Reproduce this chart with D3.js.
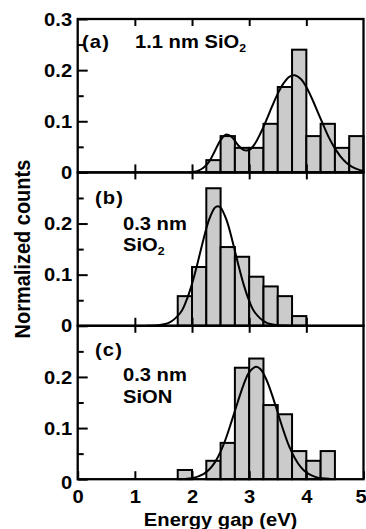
<!DOCTYPE html>
<html>
<head>
  <meta charset="utf-8">
  <script src="https://cdn.jsdelivr.net/npm/d3@7"></script>
  <style>
    body { margin: 0; background: #fff; }
    svg text { font-family: "Liberation Sans", Arial, sans-serif; font-weight: bold; fill: #000; }
  </style>
</head>
<body>
<svg id="chart" width="366" height="529"></svg>
<script>
// histogram bins are 0.25 eV wide, value = normalized count
const binWidth = 0.25;
const energyTicks = [0, 1, 2, 3, 4, 5];
const innerEnergyTicks = [1, 2, 3, 4];
const countTicksA = [0, 0.1, 0.2, 0.3];
const countTicksBC = [0, 0.1, 0.2];
const minorCountTicks = [0.05, 0.15, 0.25];

// (a) 1.1 nm SiO2
const binsA = [2.25, 2.5, 2.75, 3.0, 3.25, 3.5, 3.75, 4.0, 4.25, 4.5, 4.75];
const countsA = [0.024, 0.071, 0.048, 0.048, 0.095, 0.167, 0.240, 0.071, 0.095, 0.048, 0.071];
const fitAx = [1.95, 2.0, 2.1, 2.2, 2.3, 2.4, 2.5, 2.6, 2.7, 2.8, 2.9, 3.0, 3.1, 3.2, 3.3, 3.4, 3.5, 3.6, 3.7, 3.8, 3.9, 4.0, 4.1, 4.2, 4.3, 4.4, 4.5, 4.6, 4.7, 4.8, 4.9, 5.0];
const fitAy = [0, 0.001, 0.003, 0.009, 0.021, 0.042, 0.063, 0.074, 0.069, 0.054, 0.044, 0.044, 0.056, 0.077, 0.102, 0.129, 0.154, 0.174, 0.187, 0.190, 0.183, 0.167, 0.144, 0.118, 0.092, 0.067, 0.047, 0.031, 0.019, 0.011, 0.006, 0.003];

// (b) 0.3 nm SiO2
const binsB = [1.75, 2.0, 2.25, 2.5, 2.75, 3.0, 3.25, 3.5, 3.75];
const countsB = [0.058, 0.115, 0.269, 0.154, 0.135, 0.096, 0.077, 0.058, 0.019];
const fitBx = [1.2, 1.4, 1.6, 1.8, 1.9, 2.0, 2.1, 2.2, 2.3, 2.4, 2.45, 2.5, 2.6, 2.7, 2.8, 2.9, 3.0, 3.1, 3.3, 3.5, 3.7];
const fitBy = [0, 0.001, 0.006, 0.026, 0.049, 0.082, 0.124, 0.169, 0.208, 0.231, 0.234, 0.231, 0.208, 0.169, 0.124, 0.082, 0.049, 0.026, 0.006, 0.001, 0];

// (c) 0.3 nm SiON
const binsC = [1.75, 2.0, 2.25, 2.5, 2.75, 3.0, 3.25, 3.5, 3.75, 4.0, 4.25];
const countsC = [0.018, 0, 0.036, 0.071, 0.218, 0.236, 0.145, 0.127, 0.055, 0.036, 0.055];
const fitCx = [1.9, 2.0, 2.2, 2.3, 2.4, 2.5, 2.6, 2.7, 2.8, 2.9, 3.0, 3.12, 3.2, 3.3, 3.4, 3.5, 3.6, 3.7, 3.8, 3.9, 4.0, 4.1, 4.2, 4.4];
const fitCy = [0.001, 0.002, 0.010, 0.019, 0.033, 0.054, 0.082, 0.116, 0.151, 0.184, 0.209, 0.220, 0.215, 0.195, 0.165, 0.130, 0.095, 0.064, 0.041, 0.024, 0.013, 0.007, 0.003, 0.001];

const yTitle = "Normalized counts";
const xTitle = "Energy gap (eV)";

const svg = d3.select("#chart");
const plotLeft = 77.7, plotRight = 363.5, plotTop = 19, panelH = 153.4;
const stretch = "scale(1.12,1)"; // the original lettering is a bit wide

const x = d3.scaleLinear().domain([0, 5]).range([plotLeft, plotRight]);

const panels = [
  { bins: binsA, counts: countsA, fx: fitAx, fy: fitAy, ticks: countTicksA,
    label: [{ t: "(a)", x: 82, y: 48 }, { t: "1.1 nm SiO", sub: "2", x: 135, y: 48 }] },
  { bins: binsB, counts: countsB, fx: fitBx, fy: fitBy, ticks: countTicksBC,
    label: [{ t: "(b)", x: 95, y: 204 }, { t: "0.3 nm", x: 123, y: 230 }, { t: "SiO", sub: "2", x: 123, y: 251 }] },
  { bins: binsC, counts: countsC, fx: fitCx, fy: fitCy, ticks: countTicksBC,
    label: [{ t: "(c)", x: 95, y: 356 }, { t: "0.3 nm", x: 123, y: 381 }, { t: "SiON", x: 123, y: 403 }] }
];

const fmt = d => d === 0 ? "0" : d3.format(".1f")(d);

panels.forEach((p, i) => {
  const y0 = plotTop + panelH * (i + 1);
  const y = d3.scaleLinear().domain([0, 0.3]).range([y0, y0 - panelH]);
  const g = svg.append("g");

  // bars
  g.selectAll("rect.bar")
    .data(p.bins.map((b, j) => ({ b, v: p.counts[j] })))
    .join("rect")
    .attr("class", "bar")
    .attr("x", d => x(d.b))
    .attr("width", d => x(d.b + binWidth) - x(d.b))
    .attr("y", d => y(d.v))
    .attr("height", d => y(0) - y(d.v))
    .attr("fill", "#cbcbcb")
    .attr("stroke", "#000")
    .attr("stroke-width", 2);

  // gaussian fit
  const line = d3.line()
    .x((d, j) => x(p.fx[j]))
    .y(d => y(d))
    .curve(d3.curveCatmullRom);
  g.append("path")
    .attr("d", line(p.fy))
    .attr("fill", "none")
    .attr("stroke", "#000")
    .attr("stroke-width", 2);

  // frame
  g.append("rect")
    .attr("x", plotLeft).attr("y", y0 - panelH)
    .attr("width", plotRight - plotLeft).attr("height", panelH)
    .attr("fill", "none").attr("stroke", "#000").attr("stroke-width", 2.3);

  // y axis, ticks inward
  const yAxis = g.append("g").attr("transform", `translate(${plotLeft},0)`)
    .call(d3.axisLeft(y).tickValues(p.ticks).tickSize(-10).tickPadding(5).tickFormat(fmt));
  yAxis.selectAll("text").style("font-size", "18px").attr("transform", stretch)
    .attr("dy", d => (i === 2 && d === 0) ? "0.5em" : "0.34em");
  g.append("g").attr("transform", `translate(${plotLeft},0)`)
    .call(d3.axisLeft(y).tickValues(minorCountTicks).tickSize(-6).tickFormat(""));

  // x ticks top and bottom, pointing inward
  g.append("g").attr("transform", `translate(0,${y0 - panelH})`)
    .call(d3.axisTop(x).tickValues(innerEnergyTicks).tickSize(-7).tickFormat(""));
  const xAxis = g.append("g").attr("transform", `translate(0,${y0})`)
    .call(d3.axisBottom(x).tickValues(i === 2 ? energyTicks : innerEnergyTicks)
      .tickSize(-8).tickPadding(11).tickFormat(i === 2 ? d3.format("d") : ""));
  xAxis.selectAll("text").style("font-size", "18px").attr("transform", stretch)
    .attr("dx", d => d === 5 ? -2.5 : 0);

  g.selectAll(".domain").remove();
  g.selectAll(".tick line").attr("stroke", "#000").attr("stroke-width", 2);

  // panel labels
  p.label.forEach(l => {
    const t = g.append("text")
      .attr("transform", `translate(${l.x},${l.y}) ${stretch}`)
      .style("font-size", "18px")
      .style("letter-spacing", l.t.startsWith("(") ? "1px" : null)
      .text(l.t);
    if (l.sub) t.append("tspan").attr("dy", 4).style("font-size", "11px").text(l.sub);
  });
});

svg.append("text")
  .attr("transform", `translate(30,${plotTop + panelH * 1.5}) ${stretch} rotate(-90)`)
  .attr("text-anchor", "middle")
  .style("font-size", "20px")
  .text(yTitle);

svg.append("text")
  .attr("transform", `translate(${(plotLeft + plotRight) / 2},526) ${stretch}`)
  .attr("text-anchor", "middle")
  .style("font-size", "18px")
  .text(xTitle);
</script>
</body>
</html>
